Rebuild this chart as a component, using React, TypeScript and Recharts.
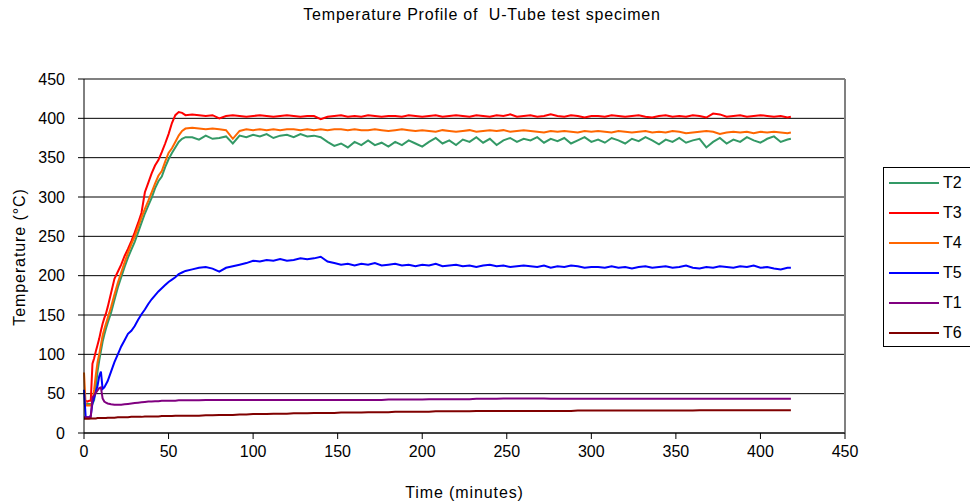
import React from "react";
import {
  LineChart,
  Line,
  XAxis,
  YAxis,
  CartesianGrid,
  ReferenceLine,
} from "recharts";

// time in minutes
const time = [
  0, 1, 2, 3, 4, 5, 6, 7, 8, 9, 10, 11, 12, 13, 14,
  16, 18, 20, 22, 24, 26, 28, 30, 32, 34, 36, 38, 40, 42, 44, 46, 48, 50, 52, 54, 56, 58, 60,
  64, 68, 72, 76, 80, 84, 88, 92, 96, 100,
  104, 108, 112, 116, 120, 124, 128, 132, 136, 140,
  144, 148, 152, 156, 160, 164, 168, 172, 176, 180,
  184, 188, 192, 196, 200, 204, 208, 212, 216, 220,
  224, 228, 232, 236, 240, 244, 248, 252, 256, 260,
  264, 268, 272, 276, 280, 284, 288, 292, 296, 300,
  304, 308, 312, 316, 320, 324, 328, 332, 336, 340,
  344, 348, 352, 356, 360, 364, 368, 372, 376, 380,
  384, 388, 392, 396, 400, 404, 408, 412, 416,
  418,
];

const t2 = [
  38, 37, 37, 37, 37, 37, 42, 58, 78, 92, 104, 116, 125, 133, 140,
  153, 169, 185, 198, 211, 223, 233, 243, 255, 267, 279, 289, 299, 311, 320, 326, 338, 348, 356, 363, 370, 374, 376,
  376, 373, 378, 374, 375, 377, 368, 378, 376, 379,
  377, 380, 375, 378, 379, 376, 380, 377, 378, 376,
  370, 365, 368, 363, 370, 366, 372, 366, 369, 364,
  370, 366, 372, 368, 364, 370, 375, 368, 372, 366,
  373, 370, 376, 369, 374, 366, 372, 375, 370, 374,
  372, 376, 369, 374, 371, 375, 368, 372, 376, 370,
  373, 369, 375, 372, 368, 374, 371, 376, 372, 367,
  373, 370, 375, 369, 372, 374, 363, 370, 375, 368,
  373, 370, 376, 372, 369, 374, 377, 370, 373,
  374,
];

const t3 = [
  41, 41, 40, 41, 41, 88, 95, 104, 112, 120, 130, 139, 146, 152, 160,
  178, 196, 205, 214, 225, 234, 244, 255, 267, 280, 306, 318, 330, 340, 347, 357, 368, 380, 394, 404, 408, 407, 404,
  405, 404, 403, 404, 400, 403, 404, 403, 402, 403,
  404, 403, 402, 403, 404, 403, 402, 403, 403, 399,
  402, 403, 404, 402, 403, 402, 404, 403, 402, 403,
  403, 402, 404, 403, 402, 403, 404, 402, 403, 404,
  403, 402, 404, 403, 402, 404, 403, 405, 402, 403,
  404, 402, 403, 405, 403, 402, 404, 403, 401, 403,
  403, 402, 404, 403, 402, 403, 404, 402, 401, 403,
  404, 402, 403, 402, 404, 403, 401, 406, 405, 402,
  403, 404, 402, 403, 404, 403, 402, 403, 401,
  402,
];

const t4 = [
  77, 35, 35, 35, 35, 40, 55, 74, 90, 100, 112, 124, 132, 139, 146,
  160, 176, 191, 204, 217, 229, 240, 250, 262, 274, 285, 295, 306, 317, 327, 333, 345, 356, 362, 370, 378, 384, 387,
  388, 387, 386, 387, 386, 385, 374, 384, 386, 385,
  386, 385, 386, 385, 386, 386, 385, 386, 385, 386,
  385, 386, 386, 385, 386, 385, 385, 386, 385, 384,
  385, 386, 385, 384, 385, 384, 383, 385, 384, 383,
  384, 385, 383, 384, 385, 384, 385, 383, 384, 385,
  384, 383, 382, 384, 383, 384, 383, 382, 384, 383,
  384, 383, 382, 384, 383, 382, 383, 384, 382, 383,
  382, 384, 383, 381, 382, 383, 384, 383, 380, 382,
  383, 382, 383, 381, 383, 382, 383, 382, 381,
  382,
];

const t5 = [
  55, 20, 20, 20, 22, 38, 45, 52, 60, 72, 78, 56, 58, 62, 66,
  78, 90, 100, 110, 118, 126, 130, 136, 144, 151, 157, 164, 170, 175, 180, 184, 188, 192, 195, 198, 202, 204, 206,
  208, 210, 211, 209, 205, 210, 212, 214, 216, 219,
  218, 220, 219, 221, 219, 220, 222, 221, 222, 224,
  218, 216, 214, 215, 213, 215, 214, 216, 213, 214,
  215, 213, 214, 212, 214, 213, 215, 212, 213, 214,
  212, 213, 211, 213, 214, 212, 213, 211, 212, 213,
  212, 211, 213, 210, 212, 211, 213, 212, 210, 211,
  211, 210, 212, 210, 211, 209, 211, 212, 210, 211,
  212, 210, 211, 213, 210, 209, 211, 210, 212, 211,
  210, 212, 211, 213, 210, 211, 209, 208, 210,
  210,
];

const t1 = [
  20, 20, 20, 20, 20, 45, 48, 51, 54, 57, 58, 44, 40, 38.5, 37.5,
  36.5, 36, 36, 36, 36.5, 37, 37.5, 38, 38.5, 39, 39.5, 40, 40, 40.5, 40.5, 41, 41, 41, 41, 41, 41.5, 41.5, 41.5,
  41.5, 41.5, 42, 42, 42, 42, 42, 42, 42, 42,
  42, 42, 42, 42, 42, 42, 42, 42, 42, 42,
  42, 42, 42, 42, 42, 42, 42, 42, 42, 42.5,
  42.5, 42.5, 42.5, 42.5, 42.5, 43, 43, 43, 43, 43,
  43, 43, 43.5, 43.5, 43.5, 43.5, 44, 44, 44, 44,
  44, 44, 44, 43.5, 43.5, 43.5, 43.5, 43.5, 43.5, 43.5,
  43.5, 43.5, 43.5, 43.5, 43.5, 43.5, 43.5, 43.5, 43.5, 43.5,
  43.5, 43.5, 43.5, 43.5, 43.5, 43.5, 43.5, 43.5, 43.5, 43.5,
  43.5, 43.5, 43.5, 43.5, 43.5, 43.5, 43.5, 43.5, 43.5,
  43.5,
];

const t6 = [
  18, 18, 18, 18, 18.5, 18.5, 18.5, 18.5, 19, 19, 19, 19, 19, 19, 19.5,
  19.5, 19.5, 20, 20, 20, 20, 20.5, 20.5, 20.5, 20.5, 21, 21, 21, 21, 21, 21.5, 21.5, 21.5, 21.5, 22, 22, 22, 22,
  22, 22, 22.5, 22.5, 23, 23, 23, 23.5, 23.5, 24,
  24, 24, 24.5, 24.5, 24.5, 25, 25, 25, 25.5, 25.5,
  25.5, 25.5, 26, 26, 26, 26, 26.5, 26.5, 26.5, 26.5,
  27, 27, 27, 27, 27, 27, 27.5, 27.5, 27.5, 27.5,
  27.5, 27.5, 28, 28, 28, 28, 28, 28, 28, 28,
  28, 28, 28, 28, 28, 28, 28, 28.5, 28.5, 28.5,
  28.5, 28.5, 28.5, 28.5, 28.5, 28.5, 28.5, 28.5, 28.5, 28.5,
  28.5, 28.5, 28.5, 28.5, 28.5, 29, 29, 29, 29, 29,
  29, 29, 29, 29, 29, 29, 29, 29, 29,
  29,
];

const xTicks = [0, 50, 100, 150, 200, 250, 300, 350, 400, 450];
const yTicks = [0, 50, 100, 150, 200, 250, 300, 350, 400, 450];

const series = [
  { key: "T2", values: t2, color: "#339966" },
  { key: "T3", values: t3, color: "#FF0000" },
  { key: "T4", values: t4, color: "#FF6600" },
  { key: "T5", values: t5, color: "#0000FF" },
  { key: "T1", values: t1, color: "#800080" },
  { key: "T6", values: t6, color: "#800000" },
];

const data = time.map((t, i) => {
  const row: Record<string, number> = { t };
  series.forEach((s) => {
    row[s.key] = s.values[i];
  });
  return row;
});

const font = '"Liberation Sans", Arial, sans-serif';

export default function App() {
  return (
    <div
      style={{
        position: "absolute",
        left: 0,
        top: 0,
        width: 970,
        height: 503,
        overflow: "hidden",
        background: "#fff",
        fontFamily: font,
        color: "#000",
      }}
    >
      <LineChart
        width={970}
        height={503}
        data={data}
        margin={{ top: 79, right: 125, bottom: 0, left: 0 }}
      >
        <CartesianGrid horizontal vertical={false} stroke="#000" strokeWidth={1} />
        <XAxis
          dataKey="t"
          type="number"
          domain={[0, 450]}
          ticks={xTicks}
          height={70}
          tickSize={6}
          tickMargin={7}
          stroke="#000"
          tick={{ fill: "#000", fontSize: 16, fontFamily: font }}
        />
        <YAxis
          type="number"
          domain={[0, 450]}
          ticks={yTicks}
          width={84}
          tickSize={6}
          tickMargin={13}
          stroke="#000"
          tick={{ fill: "#000", fontSize: 16, fontFamily: font }}
        />
        <ReferenceLine y={450} stroke="#808080" strokeWidth={2} />
        <ReferenceLine x={450} stroke="#808080" strokeWidth={2} />
        {series.map((s) => (
          <Line
            key={s.key}
            dataKey={s.key}
            stroke={s.color}
            strokeWidth={2}
            dot={false}
            activeDot={false}
            isAnimationActive={false}
            type="linear"
          />
        ))}
      </LineChart>

      <div
        style={{
          position: "absolute",
          left: 0,
          width: 964,
          top: 6,
          textAlign: "center",
          fontSize: 16,
          letterSpacing: 0.8,
          whiteSpace: "pre",
        }}
      >
        {"Temperature Profile of  U-Tube test specimen"}
      </div>

      <div
        style={{
          position: "absolute",
          left: 84,
          width: 761,
          top: 484,
          textAlign: "center",
          fontSize: 16,
          letterSpacing: 0.9,
        }}
      >
        Time (minutes)
      </div>

      <div
        style={{
          position: "absolute",
          left: 20,
          top: 257,
          transform: "translate(-50%, -50%) rotate(-90deg)",
          fontSize: 16,
          letterSpacing: 0.9,
          whiteSpace: "nowrap",
        }}
      >
        Temperature (°C)
      </div>

      <div
        style={{
          position: "absolute",
          left: 883,
          top: 167,
          width: 120,
          height: 180,
          border: "1px solid #000",
          boxSizing: "border-box",
        }}
      >
        {series.map((s, i) => (
          <div
            key={s.key}
            style={{
              position: "absolute",
              left: 5,
              top: 5 + i * 30,
              height: 20,
              display: "flex",
              alignItems: "center",
            }}
          >
            <div style={{ width: 50, height: 2.5, background: s.color }} />
            <span style={{ marginLeft: 4, fontSize: 16 }}>{s.key}</span>
          </div>
        ))}
      </div>
    </div>
  );
}
